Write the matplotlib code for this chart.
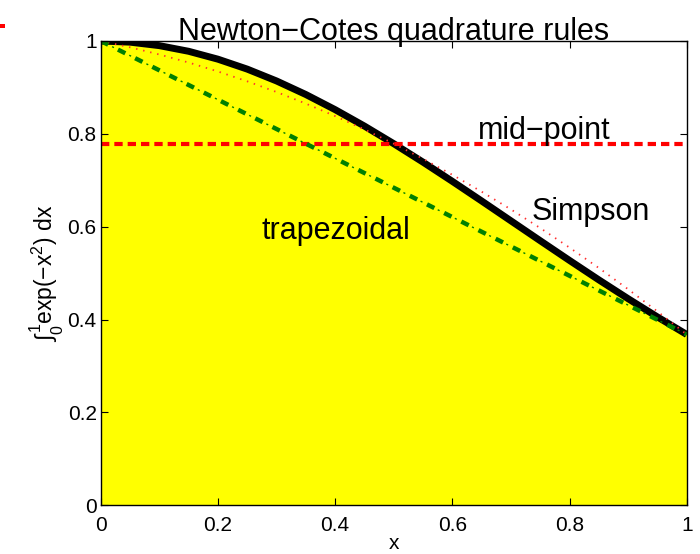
import matplotlib
matplotlib.use("Agg")
import matplotlib.pyplot as plt
from matplotlib.patches import Rectangle

plt.rcParams['font.family'] = ['Liberation Sans', 'DejaVu Sans']
plt.rcParams['mathtext.fontset'] = 'custom'
plt.rcParams['mathtext.rm'] = 'Liberation Sans'
plt.rcParams['mathtext.it'] = 'Liberation Sans'

# values
x = [0.0, 0.05, 0.1, 0.15, 0.2, 0.25, 0.3, 0.35, 0.4, 0.45, 0.5,
     0.55, 0.6, 0.65, 0.7, 0.75, 0.8, 0.85, 0.9, 0.95, 1.0]
f = [1.0, 0.9975, 0.9900, 0.9778, 0.9608, 0.9394, 0.9139, 0.8847, 0.8521, 0.8167, 0.7788,
     0.7390, 0.6977, 0.6554, 0.6126, 0.5698, 0.5273, 0.4855, 0.4449, 0.4056, 0.3679]
simpson = [1.0, 0.9864, 0.9709, 0.9536, 0.9343, 0.9131, 0.8901, 0.8651, 0.8382, 0.8095, 0.7788,
           0.7462, 0.7118, 0.6754, 0.6372, 0.5971, 0.5550, 0.5111, 0.4653, 0.4175, 0.3679]
trap_x = [0.0, 1.0]
trap_y = [1.0, 0.3679]
mid_x = [0.0, 1.0]
mid_y = [0.7788, 0.7788]

xticks = [0, 0.2, 0.4, 0.6, 0.8, 1]
xticklabels = ['0', '0.2', '0.4', '0.6', '0.8', '1']
yticks = [0, 0.2, 0.4, 0.6, 0.8, 1]
yticklabels = ['0', '0.2', '0.4', '0.6', '0.8', '1']

fig = plt.figure(figsize=(7, 5.54), dpi=100)
ax = fig.add_axes([0.144, 0.088, 0.837, 0.838])

ax.fill_between(x, 0, f, color='#ffff00', lw=0, zorder=1)
ax.plot(x, f, color='k', lw=5, zorder=3, solid_capstyle='butt')
ax.plot(x, simpson, color='#ff3030', lw=1.3, ls=(0, (0.8, 3.2)), zorder=4,
        dash_capstyle='butt')
# dash-dot: thick dashes with thin dots between
ax.plot(trap_x, trap_y, color='#008000', lw=3.2, ls=(0, (1.85, 2.47)), zorder=5,
        dash_capstyle='butt')
ax.plot(trap_x, trap_y, color='#008000', lw=1, ls=(4.7, (1.5, 12.3)), zorder=5,
        dash_capstyle='butt')
ax.plot(mid_x, mid_y, color='r', lw=3, ls=(0, (2, 1.2)), zorder=4,
        dash_capstyle='butt')

ax.text(0.757, 0.806, 'mid\u2212point', fontsize=22, ha='center', va='center', zorder=6)
ax.text(0.836, 0.631, 'Simpson', fontsize=22, ha='center', va='center', zorder=6)
ax.text(0.401, 0.590, 'trapezoidal', fontsize=22, ha='center', va='center', zorder=6)

ax.set_xlim(0, 1)
ax.set_ylim(0, 1)
ax.set_xticks(xticks)
ax.set_xticklabels(xticklabels)
ax.set_yticks(yticks)
ax.set_yticklabels(yticklabels)
ax.tick_params(direction='in', top=True, right=True, length=5, labelsize=15, pad=3)
ax.tick_params(axis='x', pad=8)
ax.set_xlabel('x', fontsize=15, labelpad=-1)
ax.set_ylabel(r'$\int_0^1$exp($-$x$^2$) dx', fontsize=16.5, labelpad=1)
ax.set_title('Newton\u2212Cotes quadrature rules', fontsize=22, pad=1)
for s in ax.spines.values():
    s.set_linewidth(1)
    s.set_zorder(10)

# small red mark at the top left corner
fig.add_artist(Rectangle((0.0, 0.949), 0.007, 0.008, color='r', lw=0,
                         transform=fig.transFigure))

fig.savefig('out.png', dpi=100)
